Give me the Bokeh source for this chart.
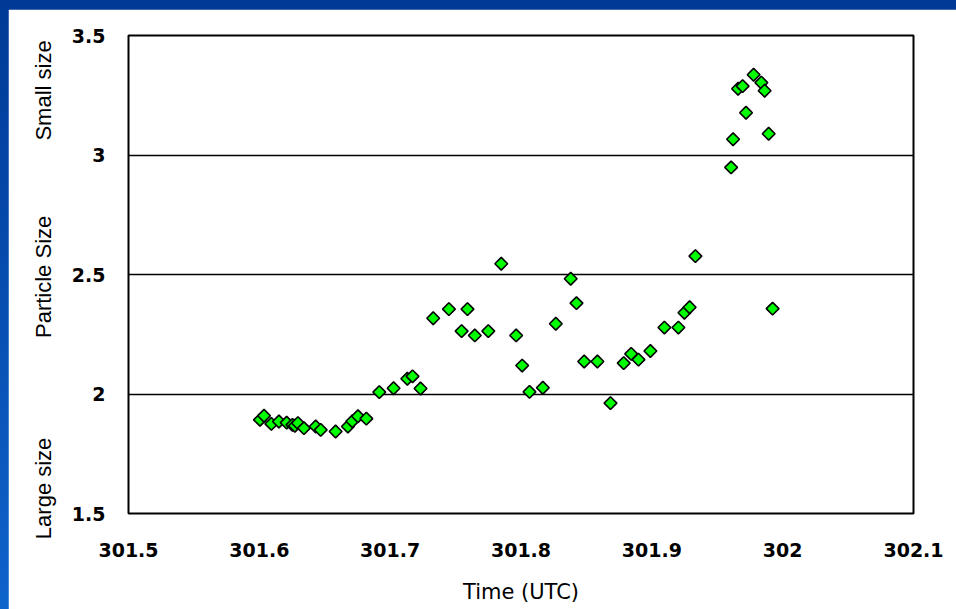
import numpy as np
from bokeh.plotting import figure
from bokeh.models import FixedTicker, CustomJSTickFormatter, LinearAxis, ColumnDataSource
from bokeh.embed import file_html
from bokeh.resources import INLINE

# ---- data ----
time_utc = [
    301.6005, 301.6036, 301.6092, 301.6150, 301.6209, 301.6253, 301.6272, 301.6295,
    301.6341, 301.6431, 301.6469, 301.6583, 301.6677, 301.6711, 301.6754, 301.6818,
    301.6917, 301.7026, 301.7131, 301.7171, 301.7232, 301.7329, 301.7449, 301.7546,
    301.7591, 301.7647, 301.7750, 301.7849, 301.7963, 301.8009, 301.8065, 301.8167,
    301.8266, 301.8380, 301.8424, 301.8483, 301.8584, 301.8684, 301.8785, 301.8842,
    301.8898, 301.8989, 301.9096, 301.9203, 301.9249, 301.9289, 301.9333, 301.9606,
    301.9621, 301.9659, 301.9694, 301.9720, 301.9778, 301.9837, 301.9862, 301.9893,
    301.9923,
]
particle_size = [
    1.892, 1.909, 1.875, 1.885, 1.880, 1.871, 1.867, 1.878,
    1.857, 1.864, 1.850, 1.843, 1.864, 1.886, 1.907, 1.897,
    2.008, 2.024, 2.064, 2.074, 2.023, 2.317, 2.355, 2.263,
    2.355, 2.245, 2.263, 2.545, 2.245, 2.119, 2.009, 2.026,
    2.294, 2.482, 2.380, 2.136, 2.136, 1.962, 2.129, 2.168,
    2.144, 2.180, 2.278, 2.278, 2.340, 2.363, 2.577, 2.948,
    3.066, 3.277, 3.288, 3.177, 3.336, 3.303, 3.269, 3.089,
    2.357,
]
x_ticks = [301.5, 301.6, 301.7, 301.8, 301.9, 302.0, 302.1]
y_ticks = [1.5, 2.0, 2.5, 3.0, 3.5]
side_labels = ["Small size", "Particle Size", "Large size"]
side_label_y = [3.27, 2.49, 1.605]

p = figure(
    frame_width=785, frame_height=478,
    min_border_left=120, min_border_right=43, min_border_top=26, min_border_bottom=96,
    x_range=(301.5, 302.1), y_range=(1.5, 3.5),
    output_backend="svg", toolbar_location=None,
)
p.background_fill_color = "white"
p.border_fill_color = "white"
p.outline_line_color = "black"
p.outline_line_width = 2

src = ColumnDataSource(dict(x=time_utc, y=particle_size))
p.scatter("x", "y", source=src, marker="square", angle=np.pi / 4, size=9,
          fill_color="#00ff00", line_color="black", line_width=1.6)

# axes
p.xaxis.ticker = FixedTicker(ticks=x_ticks)
p.xaxis.formatter = CustomJSTickFormatter(code="return tick.toFixed(1).replace(/\\.0$/, '');")
p.yaxis.ticker = FixedTicker(ticks=y_ticks)
p.yaxis.formatter = CustomJSTickFormatter(code="return tick.toFixed(1).replace(/\\.0$/, '');")
for ax in (p.xaxis[0], p.yaxis[0]):
    ax.axis_line_color = None
    ax.major_tick_line_color = None
    ax.minor_tick_line_color = None
    ax.major_label_text_font = "DejaVu Sans"
    ax.major_label_text_font_style = "bold"
    ax.major_label_text_font_size = "19px"
    ax.major_label_text_color = "black"
p.xaxis.major_label_standoff = 23
p.yaxis.major_label_standoff = 17
p.xaxis.axis_label = "Time (UTC)"
p.xaxis.axis_label_text_font = "DejaVu Sans"
p.xaxis.axis_label_text_font_style = "normal"
p.xaxis.axis_label_text_font_size = "21px"
p.xaxis.axis_label_text_color = "black"
p.xaxis.axis_label_standoff = 20

p.xgrid.grid_line_color = None
p.ygrid.grid_line_color = "black"
p.ygrid.grid_line_width = 1.5

# outer left axis carrying the three descriptive y labels
side_axis = LinearAxis(
    ticker=FixedTicker(ticks=side_label_y),
    major_label_overrides={v: t for v, t in zip(side_label_y, side_labels)},
    major_label_orientation="vertical",
    axis_line_color=None, major_tick_line_color=None, minor_tick_line_color=None,
    major_label_text_font="Liberation Sans", major_label_text_font_size="22px",
    major_label_text_color="black", major_label_standoff=6,
)
p.add_layout(side_axis, "left")

style = ("<style>html,body{margin:0 !important;padding:0 !important;}"
         "body{padding:9px 0 0 8px !important;box-sizing:border-box;"
         "background:linear-gradient(to bottom,#003a96,#0f63cc) !important;}</style>")
try:
    from bokeh.core.templates import get_env
    tmpl = get_env().from_string(
        "{% extends 'file.html' %}{% block preamble %}" + style + "{% endblock %}"
    )
    html = file_html(p, INLINE, template=tmpl)
except Exception:
    html = file_html(p, INLINE)
open("out.html", "w").write(html)
